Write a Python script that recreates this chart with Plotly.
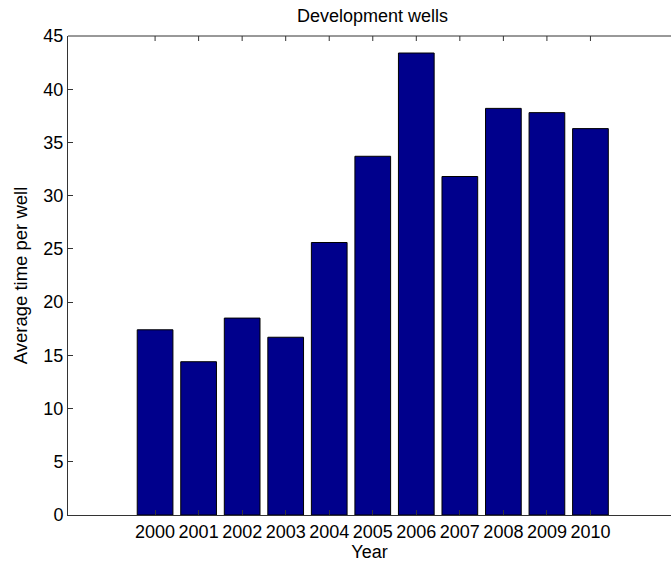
import plotly.graph_objects as go

years = [2000, 2001, 2002, 2003, 2004, 2005, 2006, 2007, 2008, 2009, 2010]
avg_time = [17.4, 14.4, 18.5, 16.7, 25.6, 33.7, 43.4, 31.8, 38.2, 37.8, 36.3]
y_ticks = [0, 5, 10, 15, 20, 25, 30, 35, 40, 45]

FONT = "Liberation Sans, Arial, sans-serif"
AX = "#333"

fig = go.Figure()
fig.add_trace(go.Bar(
    x=years, y=avg_time, width=0.82,
    marker=dict(color="rgb(0,0,140)", line=dict(color="black", width=1)),
))

# top box line and top (mirrored) ticks at the year positions
shapes = [dict(type="line", xref="paper", yref="paper", x0=0, x1=1, y0=1, y1=1,
               line=dict(color=AX, width=1))]
for yr in years:
    shapes.append(dict(type="line", xref="x", yref="paper", x0=yr, x1=yr,
                       y0=1, y1=1 - 5/479, line=dict(color=AX, width=1)))

fig.update_layout(
    template="none",
    width=671, height=567,
    margin=dict(l=68, r=0, t=36, b=52),
    paper_bgcolor="white", plot_bgcolor="white",
    showlegend=False,
    shapes=shapes,
    font=dict(family=FONT, size=18, color="black"),
    title=dict(text="Development wells", x=372.5/671, xanchor="center",
               y=1 - 16/567, yanchor="middle", font=dict(size=18)),
    xaxis=dict(
        range=[1998, 2011.85], tickvals=years, ticktext=[str(y) for y in years],
        tickangle=0,
        ticks="inside", ticklen=5, tickcolor=AX, tickwidth=1,
        showline=True, linecolor=AX, linewidth=1, mirror=False,
        showgrid=False, zeroline=False,
        title=dict(text="Year", standoff=1, font=dict(size=18)),
        tickfont=dict(size=18),
    ),
    yaxis=dict(
        range=[0, 45], tickvals=y_ticks,
        ticks="inside", ticklen=5, tickcolor=AX, tickwidth=1,
        showline=True, linecolor=AX, linewidth=1, mirror=False,
        showgrid=False, zeroline=False,
        title=dict(text="Average time per well", standoff=10, font=dict(size=18.5)),
        tickfont=dict(size=18),
    ),
)

fig.write_html(
    "out.html",
    config={"displayModeBar": False, "staticPlot": True},
    post_script="document.body.style.margin='0';document.body.style.overflow='hidden';",
)
